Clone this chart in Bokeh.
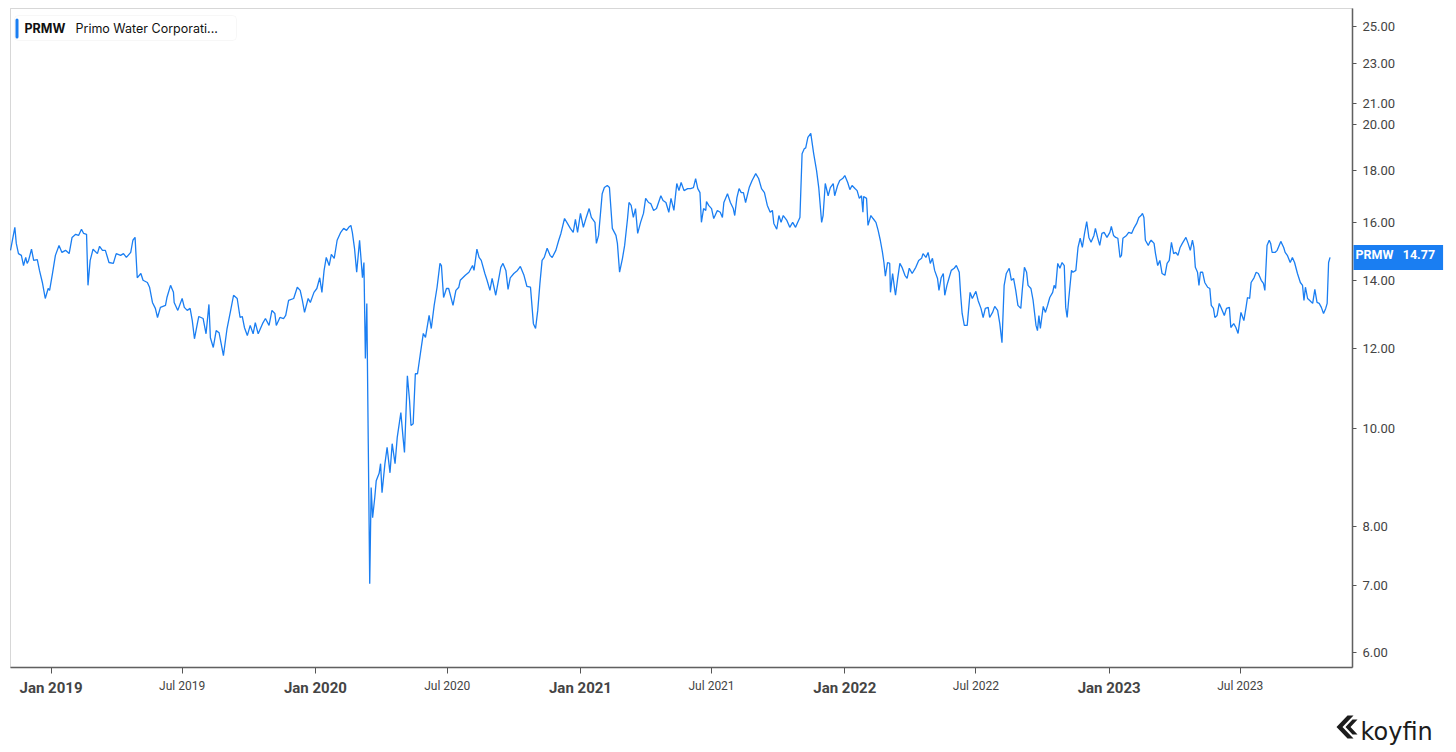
import math
import pandas as pd
from bokeh.plotting import figure
from bokeh.models import (ColumnDataSource, FixedTicker, NumeralTickFormatter,
                          CustomJSTickFormatter, Label, BoxAnnotation,
                          PolyAnnotation, Range1d)
from bokeh.embed import file_html
from bokeh.resources import INLINE

# PRMW close (days counted from start_date)
start_date = "2018-11-06"
end_date = "2023-12-03"

days_from_start = [
    # Nov 2018 - Sep 2019
    0, 6, 8, 11, 15, 18, 21, 23, 25, 29,
    32, 37, 40, 44, 48, 52, 54, 58, 62, 67,
    71, 76, 81, 85, 90, 94, 98, 101, 105, 107,
    110, 114, 120, 123, 127, 131, 136, 142, 146, 152,
    156, 160, 166, 169, 172, 175, 180, 183, 189, 192,
    196, 200, 203, 207, 214, 216, 221, 225, 226, 231,
    237, 240, 244, 248, 251, 254, 258, 260, 266, 270,
    274, 276, 280, 284, 288, 294, 299, 304, 308, 313,
    317,
    # Sep 2019 - Jul 2020
    320, 323, 327, 331, 335, 338, 342, 348, 352, 357,
    361, 365, 367, 372, 377, 380, 384, 391, 396, 400,
    403, 406, 411, 414, 419, 423, 427, 430, 433, 436,
    440, 443, 447, 451, 456, 460, 464, 467, 470, 472,
    475, 478, 482, 486, 488, 490, 492, 494, 496, 498,
    500, 503, 505, 509, 511, 513, 517, 520, 524, 527,
    531, 534, 539, 542, 544, 548, 551, 553, 556, 559,
    562, 566, 570, 573, 578, 581, 585, 589, 593, 595,
    598, 602, 605, 611, 615, 619, 621, 628, 633,
    # Aug 2020 - Jun 2021
    638, 640, 644, 647, 650, 655, 658, 662, 665, 670,
    673, 677, 680, 684, 687, 690, 695, 700, 704, 709,
    713, 718, 722, 725, 728, 731, 734, 737, 741, 745,
    748, 753, 757, 760, 765, 769, 773, 777, 780, 783,
    787, 791, 795, 799, 802, 807, 809, 812, 817, 820,
    824, 827, 831, 836, 838, 841, 845, 848, 852, 854,
    857, 860, 863, 866, 870, 874, 877, 881, 884, 888,
    892, 898, 901, 905, 909, 912, 916, 920, 923, 926,
    930, 935, 939,
    # Jun 2021 - Apr 2022
    943, 946, 949, 952, 954, 957, 960, 961, 964, 968,
    971, 976, 980, 983, 985, 990, 994, 998, 1000, 1003,
    1006, 1009, 1012, 1015, 1020, 1024, 1029, 1033, 1037, 1041,
    1045, 1049, 1052, 1054, 1058, 1061, 1064, 1067, 1072, 1076,
    1080, 1084, 1087, 1090, 1093, 1096, 1098, 1101, 1105, 1109,
    1113, 1116, 1120, 1122, 1125, 1129, 1132, 1136, 1138, 1142,
    1145, 1149, 1152, 1156, 1159, 1162, 1166, 1169, 1172, 1175,
    1177, 1178, 1182, 1184, 1188, 1191, 1195, 1198, 1201, 1204,
    1206, 1208, 1211, 1214, 1215, 1218, 1221, 1222, 1225, 1228,
    1231, 1235, 1238, 1241, 1245, 1250, 1254, 1258, 1260, 1264,
    # Apr 2022 - Feb 2023
    1267, 1270, 1273, 1276, 1280, 1282, 1285, 1288, 1290, 1293,
    1296, 1299, 1303, 1306, 1310, 1312, 1314, 1317, 1321, 1325,
    1328, 1333, 1336, 1340, 1343, 1346, 1350, 1352, 1356, 1359,
    1363, 1366, 1369, 1372, 1375, 1379, 1382, 1385, 1388, 1391,
    1395, 1397, 1400, 1403, 1405, 1409, 1412, 1416, 1418, 1420,
    1422, 1426, 1429, 1432, 1435, 1439, 1441, 1443, 1446, 1449,
    1452, 1455, 1457, 1459, 1461, 1465, 1467, 1471, 1474, 1477,
    1480, 1483, 1486, 1489, 1492, 1496, 1498, 1501, 1504, 1507,
    1510, 1514, 1518, 1520, 1523, 1526, 1529, 1532, 1534, 1536,
    1541, 1544, 1548, 1551, 1555, 1558,
    # Feb 2023 - Nov 2023
    1561, 1563, 1565, 1567, 1571, 1573, 1575, 1579, 1581, 1584,
    1587, 1590, 1594, 1597, 1600, 1603, 1606, 1609, 1612, 1615,
    1618, 1623, 1626, 1629, 1632, 1634, 1636, 1639, 1641, 1643,
    1646, 1649, 1653, 1656, 1658, 1661, 1663, 1666, 1669, 1672,
    1676, 1679, 1683, 1685, 1689, 1692, 1695, 1699, 1703, 1706,
    1708, 1711, 1713, 1717, 1720, 1723, 1727, 1730, 1732, 1735,
    1738, 1740, 1742, 1746, 1749, 1754, 1758, 1760, 1763, 1767,
    1770, 1773, 1777, 1781, 1784, 1786, 1788, 1791, 1794, 1798,
    1801, 1804, 1807, 1810, 1813, 1816, 1818, 1820, 1822,
]

prices = [
    # Nov 2018 - Sep 2019
    15.01, 15.82, 15.25, 14.90, 14.84, 14.50, 14.77, 14.57, 14.67, 15.05,
    14.67, 14.70, 14.34, 13.95, 13.45, 13.76, 13.70, 14.24, 14.84, 15.18,
    14.94, 15.01, 14.90, 15.46, 15.57, 15.53, 15.75, 15.60, 15.57, 13.86,
    14.67, 15.05, 14.90, 15.15, 15.01, 15.01, 14.60, 14.57, 14.90, 14.84,
    14.90, 14.77, 14.94, 15.36, 15.46, 14.10, 14.24, 14.02, 13.95, 13.80,
    13.33, 13.15, 12.88, 13.18, 13.24, 13.48, 13.86, 13.64, 13.33, 13.09,
    13.45, 13.18, 13.09, 13.15, 12.79, 12.27, 12.70, 12.91, 12.85, 12.41,
    13.27, 12.30, 12.03, 12.50, 12.44, 11.81, 12.56, 13.09, 13.55, 13.45,
    12.88,
    # Sep 2019 - Jul 2020
    12.91, 12.59, 12.36, 12.65, 12.41, 12.73, 12.41, 12.70, 12.85, 12.65,
    13.09, 13.00, 12.65, 12.88, 12.85, 12.94, 13.39, 13.45, 13.80, 13.70,
    13.39, 13.03, 13.45, 13.33, 13.64, 13.76, 14.10, 13.64, 14.34, 14.77,
    14.50, 14.87, 14.74, 15.36, 15.64, 15.78, 15.71, 15.82, 15.89, 15.64,
    15.08, 14.28, 15.36, 14.10, 14.60, 11.73, 13.30, 9.66, 7.02, 8.74,
    8.16, 8.55, 8.88, 9.03, 9.23, 8.64, 9.23, 9.58, 9.04, 9.66,
    9.23, 9.80, 10.37, 9.80, 9.47, 11.28, 10.66, 10.07, 10.11, 11.33,
    11.33, 11.87, 12.42, 12.31, 12.94, 12.56, 13.24, 13.80, 14.57, 14.50,
    13.48, 13.76, 13.76, 13.24, 13.70, 13.80, 14.02, 14.18, 14.28,
    # Aug 2020 - Jun 2021
    14.50, 14.34, 15.05, 14.77, 14.67, 14.24, 14.02, 13.70, 14.08, 13.55,
    13.92, 14.44, 14.57, 14.34, 13.73, 14.10, 14.24, 14.34, 14.47, 14.18,
    13.83, 13.80, 12.70, 12.56, 13.09, 13.92, 14.67, 14.77, 15.08, 14.84,
    14.77, 15.01, 15.36, 15.60, 16.14, 15.96, 15.78, 15.64, 16.11, 15.64,
    16.33, 15.82, 16.18, 16.51, 16.18, 16.00, 15.25, 15.53, 17.08, 17.32,
    17.40, 17.32, 15.78, 15.53, 15.25, 14.28, 14.74, 15.18, 16.14, 16.74,
    16.63, 16.18, 16.51, 15.60, 16.00, 16.33, 16.90, 16.74, 16.70, 16.44,
    16.51, 17.00, 16.82, 16.74, 16.37, 16.90, 16.44, 17.48, 17.20, 17.52,
    17.20, 17.28, 17.28,
    # Jun 2021 - Apr 2022
    17.32, 17.68, 17.28, 17.12, 16.00, 16.51, 16.44, 16.78, 16.63, 16.51,
    16.14, 16.44, 16.37, 16.18, 16.74, 17.08, 16.74, 16.51, 16.25, 16.93,
    17.28, 17.12, 17.12, 16.74, 17.32, 17.60, 17.88, 17.68, 17.28, 17.12,
    16.63, 16.37, 16.44, 15.96, 15.75, 16.25, 16.00, 16.25, 16.07, 15.82,
    16.00, 15.82, 16.00, 16.18, 18.71, 18.92, 18.96, 19.42, 19.60, 18.71,
    18.00, 17.32, 16.00, 16.25, 17.48, 17.00, 17.32, 17.48, 17.00, 17.40,
    17.60, 17.68, 17.80, 17.52, 17.24, 17.40, 17.28, 17.20, 16.90, 17.00,
    16.37, 16.97, 16.90, 15.89, 16.25, 16.14, 16.00, 15.71, 15.36, 14.94,
    14.60, 14.15, 14.60, 14.57, 13.64, 14.24, 13.70, 13.55, 14.08, 14.57,
    14.44, 14.18, 14.08, 14.41, 14.24, 14.44, 14.67, 14.74, 14.90, 14.77,
    # Apr 2022 - Feb 2023
    14.94, 14.57, 14.74, 14.34, 14.08, 13.70, 14.10, 14.24, 13.55, 13.86,
    14.10, 14.34, 14.41, 14.50, 14.28, 13.55, 13.00, 12.65, 12.65, 13.64,
    13.45, 13.67, 13.39, 13.15, 12.88, 13.15, 13.18, 12.88, 13.03, 13.21,
    13.09, 12.70, 12.16, 13.86, 14.24, 14.41, 14.02, 14.08, 13.70, 13.24,
    13.15, 13.70, 14.44, 14.28, 13.86, 13.76, 13.39, 12.65, 12.50, 12.94,
    12.56, 13.21, 13.03, 13.24, 13.48, 13.64, 13.86, 13.76, 14.57, 14.41,
    14.60, 14.50, 13.18, 12.88, 13.39, 14.34, 14.28, 14.34, 15.11, 15.43,
    15.11, 15.60, 16.03, 15.46, 15.29, 15.53, 15.78, 15.46, 15.18, 15.60,
    15.64, 15.46, 15.64, 15.85, 15.53, 15.46, 15.43, 14.77, 14.84, 15.43,
    15.53, 15.64, 15.60, 15.78, 15.96, 16.18,
    # Feb 2023 - Nov 2023
    16.25, 16.33, 16.18, 15.36, 15.18, 15.29, 15.36, 15.25, 14.90, 14.50,
    14.67, 14.24, 14.18, 14.57, 14.67, 15.29, 14.90, 14.94, 14.84, 15.11,
    15.25, 15.46, 15.25, 15.01, 15.36, 15.11, 14.44, 14.28, 13.86, 14.28,
    14.28, 13.95, 13.80, 13.76, 13.24, 13.15, 12.88, 12.94, 13.30, 13.15,
    12.94, 13.15, 13.18, 12.59, 12.70, 12.59, 12.42, 13.03, 12.79, 13.18,
    13.48, 13.45, 13.95, 14.10, 14.28, 14.24, 14.02, 13.92, 13.70, 15.18,
    15.36, 15.25, 14.94, 14.94, 15.01, 15.32, 15.11, 14.94, 14.84, 14.60,
    14.77, 14.60, 14.24, 13.95, 13.86, 13.39, 13.80, 13.45, 13.39, 13.30,
    13.73, 13.33, 13.30, 13.18, 13.00, 13.15, 13.30, 14.60, 14.77,
]

x_tick_dates = ["2019-01-01", "2019-07-01", "2020-01-01", "2020-07-01",
                "2021-01-01", "2021-07-01", "2022-01-01", "2022-07-01",
                "2023-01-01", "2023-07-01"]
x_tick_labels = ["Jan 2019", "Jul 2019", "Jan 2020", "Jul 2020", "Jan 2021",
                 "Jul 2021", "Jan 2022", "Jul 2022", "Jan 2023", "Jul 2023"]
y_ticks = [6, 7, 8, 10, 12, 14, 16, 18, 20, 21, 23, 25]
y_min, y_max = 5.80, 26.05

ticker_symbol = "PRMW"
company_name = "Primo Water Corporati..."

assert len(days_from_start) == len(prices)

W, H = 1456, 752
# plot box inside the canvas (px): left, right, top, bottom
BOX_L, BOX_R, BOX_T, BOX_B = 10, 1352, 8, 667

BLUE = "#1a7ef2"
AXIS = "#555555"
LABEL = "#444444"
NBSP = "\u00a0"


def ms(d):
    return pd.Timestamp(d).value / 1e6


# the frame fills the whole canvas; the visible chart box is drawn inside it
x0, x1 = ms(start_date), ms(end_date)
ms_per_px = (x1 - x0) / (BOX_R - BOX_L)
x_range = Range1d(x0 - BOX_L * ms_per_px, x1 + (W - BOX_R) * ms_per_px)

l0, l1 = math.log10(y_min), math.log10(y_max)
dec_per_px = (l1 - l0) / (BOX_B - BOX_T)
y_range = Range1d(10 ** (l0 - (H - BOX_B) * dec_per_px),
                  10 ** (l1 + BOX_T * dec_per_px))

dates = pd.Timestamp(start_date) + pd.to_timedelta(days_from_start, unit="D")
src = ColumnDataSource(data=dict(date=dates, price=prices))

p = figure(width=W, height=H,
           x_axis_type="datetime", y_axis_type="log",
           x_axis_location="below", y_axis_location="right",
           x_range=x_range, y_range=y_range,
           output_backend="svg", toolbar_location=None, tools="",
           min_border=0)

p.grid.visible = False
p.outline_line_color = None
p.background_fill_color = "white"
p.border_fill_color = "white"

# chart box outline
p.add_layout(BoxAnnotation(left=x0, right=x1, bottom=y_min, top=y_max,
                           fill_color=None, line_color="#7a7a7a",
                           line_width=1))

p.line(x="date", y="price", source=src, line_color=BLUE, line_width=1.3)

# x axis pinned to the bottom of the box: ticks only
xa = p.xaxis[0]
xa.fixed_location = y_min
xa.bounds = (x0, x1)
xa.ticker = FixedTicker(ticks=[ms(d) for d in x_tick_dates])
xa.formatter = CustomJSTickFormatter(code="return ''")
xa.axis_line_color = AXIS
xa.axis_line_width = 1.5
xa.major_tick_line_color = AXIS
xa.major_tick_in = 0
xa.major_tick_out = 6
xa.minor_tick_line_color = None

for d, lab in zip(x_tick_dates, x_tick_labels):
    is_jan = lab.startswith("Jan")
    p.add_layout(Label(x=ms(d), y=H - (687 if is_jan else 685),
                       x_units="data", y_units="screen", text=lab,
                       text_align="center", text_baseline="middle",
                       text_font="Roboto",
                       text_font_size="15px" if is_jan else "12px",
                       text_font_style="bold" if is_jan else "normal",
                       text_color=LABEL))

# y axis pinned to the right side of the box
ya = p.yaxis[0]
ya.fixed_location = x1
ya.bounds = (y_min, y_max)
ya.ticker = FixedTicker(ticks=y_ticks)
ya.formatter = NumeralTickFormatter(format="0.00")
ya.axis_line_color = AXIS
ya.axis_line_width = 1.5
ya.major_tick_line_color = AXIS
ya.major_tick_in = 0
ya.major_tick_out = 4
ya.minor_tick_line_color = None
ya.major_label_text_font = "Roboto"
ya.major_label_text_font_size = "13px"
ya.major_label_text_color = LABEL
ya.major_label_standoff = 6

# last price tag
p.add_layout(Label(x=BOX_R + 1, x_units="screen", y=prices[-1], y_units="data",
                   text=f"{ticker_symbol}{NBSP * 3}{prices[-1]:.2f}",
                   text_align="left", text_baseline="middle",
                   text_font="Roboto", text_font_size="12.5px",
                   text_font_style="bold", text_color="white",
                   background_fill_color=BLUE, padding=(2, 8, 2, 8)))

# legend chip top-left
p.add_layout(BoxAnnotation(left=14, right=236, top=H - 15, bottom=H - 40,
                           left_units="screen", right_units="screen",
                           top_units="screen", bottom_units="screen",
                           fill_color="white", fill_alpha=1,
                           line_color="#e4e4e4", line_width=1,
                           border_radius=4))
p.add_layout(BoxAnnotation(left=15, right=18, top=H - 18, bottom=H - 38,
                           left_units="screen", right_units="screen",
                           top_units="screen", bottom_units="screen",
                           fill_color=BLUE, fill_alpha=1, line_color=None,
                           border_radius=2))
p.add_layout(Label(x=24, y=H - 28, x_units="screen", y_units="screen",
                   text=ticker_symbol, text_baseline="middle",
                   text_font="Inter", text_font_size="12.5px",
                   text_font_style="bold", text_color="#111111"))
p.add_layout(Label(x=75, y=H - 28, x_units="screen", y_units="screen",
                   text=company_name, text_baseline="middle",
                   text_font="Inter", text_font_size="12.5px",
                   text_color="#111111"))

# koyfin mark
p.add_layout(PolyAnnotation(xs=[1347, 1353, 1342, 1353, 1347, 1336],
                            ys=[H - 715, H - 715, H - 726.5, H - 738, H - 738, H - 726.5],
                            xs_units="screen", ys_units="screen",
                            fill_color="#1c1c1c", fill_alpha=1,
                            line_color=None))
p.add_layout(PolyAnnotation(xs=[1352, 1357, 1350, 1357, 1352, 1345],
                            ys=[H - 719, H - 719, H - 726.5, H - 734, H - 734, H - 726.5],
                            xs_units="screen", ys_units="screen",
                            fill_color="#1c1c1c", fill_alpha=1,
                            line_color=None))
p.add_layout(Label(x=1360, y=H - 731, x_units="screen", y_units="screen",
                   text="koyfin", text_baseline="alphabetic",
                   text_font="DejaVu Sans", text_font_size="24px",
                   text_color="#1c1c1c"))

open("out.html", "w").write(file_html(p, INLINE))
